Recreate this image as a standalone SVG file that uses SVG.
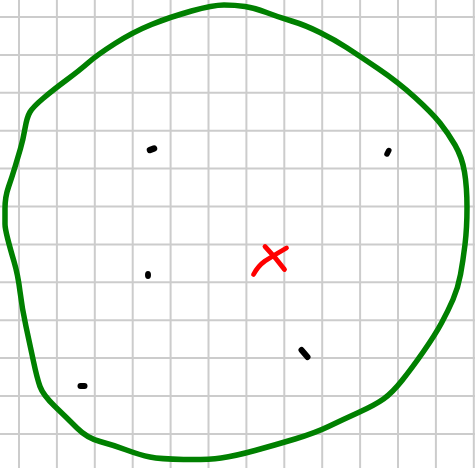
<svg xmlns="http://www.w3.org/2000/svg" width="475" height="468" viewBox="0 0 475 468">
<style>
.grid line{stroke:#cccccc;stroke-width:2}
.dot{stroke:#000;stroke-linecap:round;fill:none}
.x{stroke:#ff0000;stroke-width:4.8;stroke-linecap:round;fill:none}
</style>
<rect width="475" height="468" fill="#ffffff"/>
<g id="grid" class="grid">
<line x1="19" y1="0" x2="19" y2="468"/>
<line x1="56.9" y1="0" x2="56.9" y2="468"/>
<line x1="94.8" y1="0" x2="94.8" y2="468"/>
<line x1="132.7" y1="0" x2="132.7" y2="468"/>
<line x1="170.6" y1="0" x2="170.6" y2="468"/>
<line x1="208.5" y1="0" x2="208.5" y2="468"/>
<line x1="246.4" y1="0" x2="246.4" y2="468"/>
<line x1="284.3" y1="0" x2="284.3" y2="468"/>
<line x1="322.2" y1="0" x2="322.2" y2="468"/>
<line x1="360.1" y1="0" x2="360.1" y2="468"/>
<line x1="398" y1="0" x2="398" y2="468"/>
<line x1="435.9" y1="0" x2="435.9" y2="468"/>
<line x1="473.8" y1="0" x2="473.8" y2="468"/>
<line x1="0" y1="17" x2="475" y2="17"/>
<line x1="0" y1="54.9" x2="475" y2="54.9"/>
<line x1="0" y1="92.8" x2="475" y2="92.8"/>
<line x1="0" y1="130.7" x2="475" y2="130.7"/>
<line x1="0" y1="168.6" x2="475" y2="168.6"/>
<line x1="0" y1="206.5" x2="475" y2="206.5"/>
<line x1="0" y1="244.4" x2="475" y2="244.4"/>
<line x1="0" y1="282.3" x2="475" y2="282.3"/>
<line x1="0" y1="320.2" x2="475" y2="320.2"/>
<line x1="0" y1="358.1" x2="475" y2="358.1"/>
<line x1="0" y1="396" x2="475" y2="396"/>
<line x1="0" y1="433.9" x2="475" y2="433.9"/>
</g>
<g id="boundary">
<path fill="none" stroke="#008000" stroke-width="5.5" stroke-linejoin="round" d="M191.5,11 Q213,5 224,5 Q235,5 245,6.5 Q255,8 266.5,12.5 Q278,17 291.5,21 Q305,25 320,32.5 Q335,40 346.5,47.5 Q358,55 378,68.5 Q398,82 415,97.5 Q432,113 440,123 Q448,133 455,145 Q462,157 464.5,172 Q467,187 467,207.5 Q467,228 465,244.5 Q463,261 460.5,274.5 Q458,288 453,299.5 Q448,311 441.5,323 Q435,335 423.5,351.5 Q412,368 402,380.5 Q392,393 383.5,399 Q375,405 358.5,412.5 Q342,420 328.5,426.5 Q315,433 295,439 Q275,445 255,450.5 Q235,456 221,458 Q207,460 183.5,459.5 Q160,459 150,457 Q140,455 126.5,450 Q113,445 100,441.5 Q87,438 77,428 Q67,418 55,406.5 Q43,395 40,386.5 Q37,378 33.5,361.5 Q30,345 26,326.5 Q22,308 20,291.5 Q18,275 14,261.5 Q10,248 7.5,238 Q5,228 5,224 Q5,220 5,208.5 Q5,197 8.5,187 Q12,177 15,167 Q18,157 20.5,148.5 Q23,140 25,128.5 Q27,117 30,112 Q33,107 43,98.5 Q53,90 66.5,80 Q80,70 88.5,62.5 Q97,55 115,43.5 Q133,32 151.5,24.5 Q170,17 191.5,11 Z"/>
</g>
<g id="points">
<line class="dot" stroke-width="6.5" x1="150" y1="150" x2="154" y2="148.5"/>
<line class="dot" stroke-width="5.5" x1="387" y1="154" x2="388.8" y2="150.5"/>
<ellipse cx="148" cy="275" rx="3" ry="4" fill="#000"/>
<line class="dot" stroke-width="6" x1="80.5" y1="386" x2="84.5" y2="386"/>
<line class="dot" stroke-width="6" x1="301.5" y1="350" x2="307.5" y2="357"/>
</g>
<g id="marker-x">
<path class="x" d="M253.5,274.5 Q258,266 265,261 Q276,254 286.5,248"/>
<path class="x" d="M265,246.5 Q276,258 284.5,269.5"/>
</g>
</svg>
